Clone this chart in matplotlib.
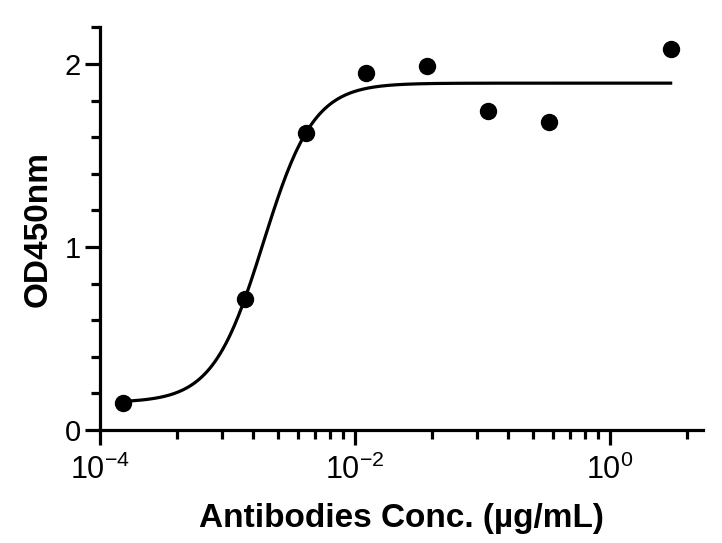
import numpy as np
import matplotlib
matplotlib.use("Agg")
import matplotlib.pyplot as plt
from matplotlib.ticker import FixedLocator, FuncFormatter

plt.rcParams['font.family'] = ['Liberation Sans', 'DejaVu Sans']
plt.rcParams['mathtext.fontset'] = 'custom'
plt.rcParams['mathtext.rm'] = 'Liberation Sans'
plt.rcParams['mathtext.it'] = 'Liberation Sans'
plt.rcParams['mathtext.bf'] = 'Liberation Sans:bold'

# measured points (3-fold dilutions, ug/mL) and OD450
conc = [1.52e-4, 1.37e-3, 4.12e-3, 0.0123, 0.037, 0.111, 0.333, 3.0]
od450 = [0.146, 0.718, 1.622, 1.949, 1.991, 1.742, 1.682, 2.079]

# 4PL fit: bottom, top, EC50, hill slope
fit_params = [0.15, 1.895, 1.91e-3, 2.196]

def four_pl(x, bottom, top, ec50, hill):
    return bottom + (top - bottom) / (1 + (ec50 / x) ** hill)

fig = plt.figure(figsize=(7.22, 5.43), dpi=100)
ax = fig.add_axes([0.1385, 0.2081, 0.973 - 0.1385, 0.9497 - 0.2081])

xs = np.logspace(np.log10(conc[0]), np.log10(conc[-1]), 400)
ax.plot(xs, four_pl(xs, *fit_params), color='black', lw=2.3, zorder=2)
ax.plot(conc, od450, 'o', color='black', ms=11.5, zorder=3)

ax.set_xscale('log')
ax.set_xlim(1e-4, 10 ** 0.727)
ax.set_ylim(0, 2.2)

# major ticks every 2 decades, minor ticks spaced like a base-100 log axis
majors = [1e-4, 1e-2, 1e0]
minors = []
for e in [-4, -2, 0]:
    for k in range(2, 10):
        v = 10 ** (e + 2 * np.log10(k))
        if v < 10 ** 0.727:
            minors.append(v)
ax.xaxis.set_major_locator(FixedLocator(majors))
ax.xaxis.set_minor_locator(FixedLocator(minors))
ax.xaxis.set_major_formatter(FuncFormatter(lambda v, p: r'$10^{%d}$' % round(np.log10(v))))
ax.xaxis.set_minor_formatter(FuncFormatter(lambda v, p: ''))

ax.set_yticks([0, 1, 2])
ax.set_yticks(np.arange(0, 2.21, 0.2), minor=True)

for s in ['top', 'right']:
    ax.spines[s].set_visible(False)
for s in ['left', 'bottom']:
    ax.spines[s].set_linewidth(2.3)

ax.tick_params(which='major', length=10.8, width=2.3, labelsize=21, pad=3)
ax.tick_params(axis='x', which='major', labelsize=22, pad=7)
ax.tick_params(which='minor', length=6.5, width=2.3)

ax.set_xlabel('Antibodies Conc. (µg/mL)', fontsize=24, fontweight='bold', labelpad=12)
ax.set_ylabel('OD450nm', fontsize=24, fontweight='bold', labelpad=8)

fig.savefig('out.png', dpi=100)
